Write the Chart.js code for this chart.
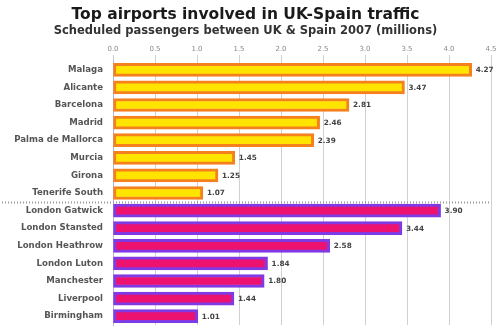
<!DOCTYPE html>
<html><head><meta charset="utf-8">
<script src="https://cdn.jsdelivr.net/npm/chart.js@4"></script>
<style>html,body{margin:0;padding:0;background:#fff;}#c{display:block;}</style>
</head><body>
<canvas id="c" width="501" height="328"></canvas>
<script>
const spainAirports = ["Malaga","Alicante","Barcelona","Madrid","Palma de Mallorca","Murcia","Girona","Tenerife South"];
const spainValues = [4.27,3.47,2.81,2.46,2.39,1.45,1.25,1.07];
const ukAirports = ["London Gatwick","London Stansted","London Heathrow","London Luton","Manchester","Liverpool","Birmingham"];
const ukValues = [3.90,3.44,2.58,1.84,1.80,1.44,1.01];
const xTicks = [0,0.5,1,1.5,2,2.5,3,3.5,4,4.5];

const labels = spainAirports.concat(ukAirports);
const spainData = spainValues.concat(ukAirports.map(()=>null));
const ukData = spainAirports.map(()=>null).concat(ukValues);

const FONT = "DejaVu Sans";

const valueLabels = {
  id:'valueLabels',
  afterDatasetsDraw(chart){
    const ctx = chart.ctx;
    ctx.save();
    ctx.font = "bold 7.3px '" + FONT + "'";
    ctx.fillStyle = "#444";
    ctx.textBaseline = "middle";
    ctx.textAlign = "left";
    chart.data.datasets.forEach((ds,i)=>{
      const meta = chart.getDatasetMeta(i);
      meta.data.forEach((el,j)=>{
        const v = ds.data[j];
        if (v === null || v === undefined) return;
        ctx.fillText(v.toFixed(2), el.x + 4, el.y + 0.5);
      });
    });
    ctx.restore();
  }
};

const separator = {
  id:'separator',
  afterDraw(chart){
    const y = chart.scales.y;
    const x = chart.scales.x;
    const py = Math.round((y.getPixelForValue(spainAirports.length-1) + y.getPixelForValue(spainAirports.length))/2) + 0.5;
    const ctx = chart.ctx;
    ctx.save();
    ctx.strokeStyle = "#9a9a9a";
    ctx.lineWidth = 2;
    ctx.setLineDash([1,2]);
    ctx.beginPath();
    ctx.moveTo(2, py);
    ctx.lineTo(x.right, py);
    ctx.stroke();
    ctx.restore();
  }
};

new Chart(document.getElementById('c'), {
  type:'bar',
  data:{
    labels: labels,
    datasets:[
      {data: spainData, backgroundColor:'#ffe400', borderColor:'#f4801e', borderWidth:3, borderSkipped:false, barThickness:13, grouped:false},
      {data: ukData, backgroundColor:'#ee1270', borderColor:'#7f3ae4', borderWidth:3, borderSkipped:false, barThickness:13, grouped:false}
    ]
  },
  options:{
    indexAxis:'y',
    responsive:false,
    animation:false,
    layout:{padding:{left:0,right:10,top:0,bottom:3}},
    plugins:{
      legend:{display:false},
      tooltip:{enabled:false},
      title:{display:true, text:'Top airports involved in UK-Spain traffic', color:'#1a1a1a',
        font:{family:FONT, size:15.5, weight:'bold'}, padding:{top:6,bottom:0}},
      subtitle:{display:true, text:'Scheduled passengers between UK & Spain 2007 (millions)', color:'#333',
        font:{family:FONT, size:11.5, weight:'bold'}, padding:{top:0,bottom:3}}
    },
    scales:{
      x:{
        position:'top', min:0, max:4.5,
        afterBuildTicks(s){ s.ticks = xTicks.map(v=>({value:v})); },
        ticks:{color:'#8a8a8a', font:{family:FONT, size:7}, padding:2, callback:(v)=>Number(v).toFixed(1)},
        grid:{color:'#d0d0d0', lineWidth:1, drawTicks:true, tickLength:6, tickColor:'#d0d0d0'},
        border:{display:false},
        afterFit(s){ s.height = 19.6; }
      },
      y:{
        ticks:{color:'#555', font:{family:FONT, size:8.6, weight:'bold'}, padding:10, autoSkip:false},
        grid:{display:false, drawTicks:false},
        border:{display:true, color:'#b8b0d8', width:1},
        afterFit(s){ s.width = 113; s.paddingTop = 0; s.paddingBottom = 0; }
      }
    }
  },
  plugins:[valueLabels, separator]
});
</script>
</body></html>
